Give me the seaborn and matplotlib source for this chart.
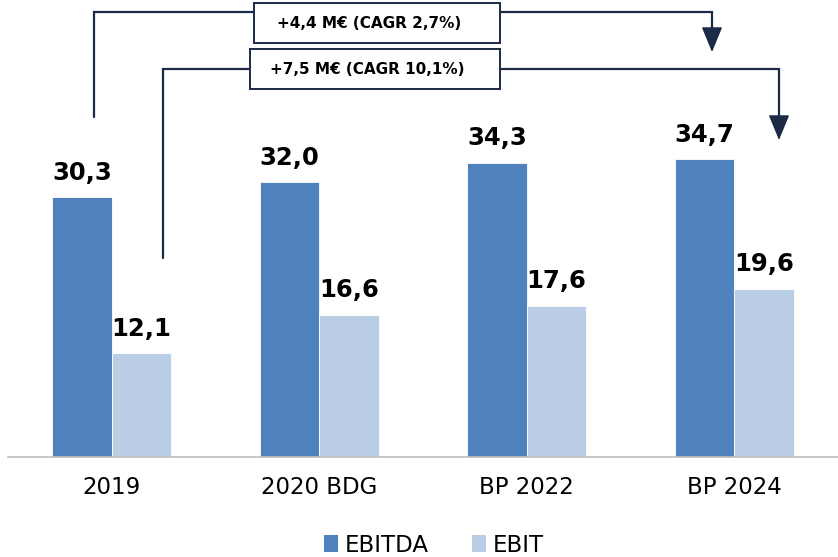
import numpy as np
import pandas as pd
import matplotlib
matplotlib.use("Agg")
import matplotlib.pyplot as plt
import seaborn as sns
from matplotlib.lines import Line2D
from matplotlib.patches import Rectangle, FancyArrowPatch

# ---- data ----
categories = ["2019", "2020 BDG", "BP 2022", "BP 2024"]
ebitda = [30.3, 32.0, 34.3, 34.7]
ebit = [12.1, 16.6, 17.6, 19.6]
series = ["EBITDA", "EBIT"]
colors = ["#4F81BD", "#B9CDE5"]
annot_texts = ["+4,4 M€ (CAGR 2,7%)", "+7,5 M€ (CAGR 10,1%)"]

df = pd.DataFrame({
    "Anno": categories * 2,
    "Serie": [series[0]] * len(categories) + [series[1]] * len(categories),
    "Valore": ebitda + ebit,
})

sns.set_theme(style="white")
plt.rcParams["font.family"] = ["DejaVu Sans"]
plt.rcParams["text.color"] = "black"

W, H = 838, 557
fig = plt.figure(figsize=(W / 100, H / 100), dpi=100)
ax = fig.add_axes([8 / W, 100 / H, 830 / W, 457 / H])

sns.barplot(data=df, x="Anno", y="Valore", hue="Serie", hue_order=series,
            palette=colors, width=0.575, gap=0, saturation=1, errorbar=None,
            legend=False, linewidth=0.6, edgecolor="white", ax=ax)

ax.set_xlim(-0.5, 3.5)
ax.set_ylim(0, 457 / 8.58)

for cont, vals in zip(ax.containers, [ebitda, ebit]):
    ax.bar_label(cont, labels=[f"{v:.1f}".replace(".", ",") for v in vals],
                 padding=9, fontsize=17.5, fontweight="heavy", color="black")

ax.set_xlabel("")
ax.set_ylabel("")
ax.set_yticks([])
ax.tick_params(axis="x", length=0, pad=14, labelsize=16.5, labelcolor="black")
for s in ["left", "top", "right"]:
    ax.spines[s].set_visible(False)
ax.spines["bottom"].set_color("#BFBFBF")
ax.spines["bottom"].set_linewidth(1.2)

# ---- annotations (figure pixel coordinates, y from top) ----
def fx(x):
    return x / W

def fy(y):
    return 1 - y / H

navy = "#1B2A47"

def connector(points, tip):
    xs = [fx(p[0]) for p in points]
    ys = [fy(p[1]) for p in points]
    fig.add_artist(Line2D(xs, ys, transform=fig.transFigure, color=navy,
                          lw=1.6, solid_joinstyle="miter", zorder=2))
    last = points[-1]
    arr = FancyArrowPatch((fx(last[0]), fy(last[1] - 2)), (fx(tip[0]), fy(tip[1])),
                          transform=fig.transFigure,
                          arrowstyle="-|>,head_length=0.8,head_width=0.33",
                          mutation_scale=20, color=navy, lw=1.0,
                          shrinkA=0, shrinkB=0, zorder=2)
    fig.add_artist(arr)

connector([(94, 117), (94, 12), (712, 12), (712, 38)], (712, 52))
connector([(163, 258), (163, 69), (779, 69), (779, 126)], (779, 140))

for (x0, y0, x1, y1), txt in zip([(254, 3, 500, 43), (250, 49, 500, 89)], annot_texts):
    fig.add_artist(Rectangle((fx(x0), fy(y1)), (x1 - x0) / W, (y1 - y0) / H,
                             transform=fig.transFigure, facecolor="white",
                             edgecolor=navy, lw=1.4, zorder=5))
    fig.text(fx((x0 + x1) / 2 - 8), fy((y0 + y1) / 2 + 1), txt, ha="center",
             va="center", fontsize=11, fontweight="heavy", color="black",
             zorder=6)

handles = [Rectangle((0, 0), 1, 1, facecolor=c, edgecolor="none") for c in colors]
fig.legend(handles, series, loc="center", bbox_to_anchor=(fx(434), fy(545)),
           ncol=2, frameon=False, fontsize=16.5, handlelength=0.6,
           handleheight=0.75, handletextpad=0.3, columnspacing=1.9,
           labelcolor="black")

fig.savefig("out.png", dpi=100)
